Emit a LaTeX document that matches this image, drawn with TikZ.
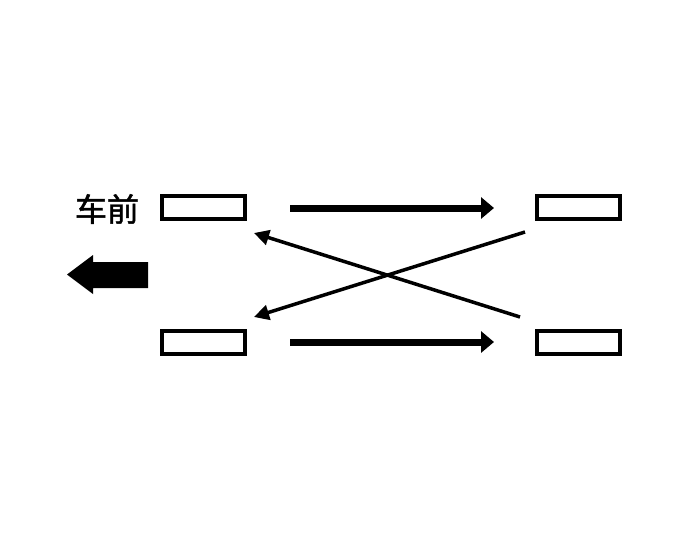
\documentclass[tikz,border=0pt]{standalone}
\usepackage{fontspec}
\newfontfamily\cjk[FakeBold=1.5]{Noto Sans CJK SC}
\usetikzlibrary{arrows.meta,shapes.arrows}
\begin{document}
\begin{tikzpicture}[x=1pt,y=-1pt,
  wheel/.style={draw,line width=3.5pt,minimum width=83pt,minimum height=23pt,inner sep=0pt},
  thickarr/.style={line width=7pt,-{Triangle[length=13pt,width=21pt]}},
  thinarr/.style={line width=3.5pt,-{Triangle[length=15pt,width=15pt]}}]
\useasboundingbox (0,0) rectangle (685,543);
\node[wheel] (fl) at (203.5,207.5) {};
\node[wheel] (fr) at (578.5,207.5) {};
\node[wheel] (rl) at (203.5,342.5) {};
\node[wheel] (rr) at (578.5,342.5) {};
\coordinate (a1s) at (290,208);
\coordinate (a1e) at (494,208);
\coordinate (a2s) at (290,342);
\coordinate (a2e) at (494,342);
\coordinate (c1s) at (525,232);
\coordinate (c1e) at (254,317);
\coordinate (c2s) at (520,317);
\coordinate (c2e) at (254,233);
\draw[thickarr] (a1s) -- (a1e);
\draw[thickarr] (a2s) -- (a2e);
\draw[thinarr] (c1s) -- (c1e);
\draw[thinarr] (c2s) -- (c2e);
\node[font=\cjk\fontsize{32}{32}\selectfont,inner sep=0pt] (lbl) at (107,209) {车前};
\fill (148,262) -- (93,262) -- (93,255) -- (67,274.5) -- (93,294) -- (93,288) -- (148,288) -- cycle;
\end{tikzpicture}
\end{document}
